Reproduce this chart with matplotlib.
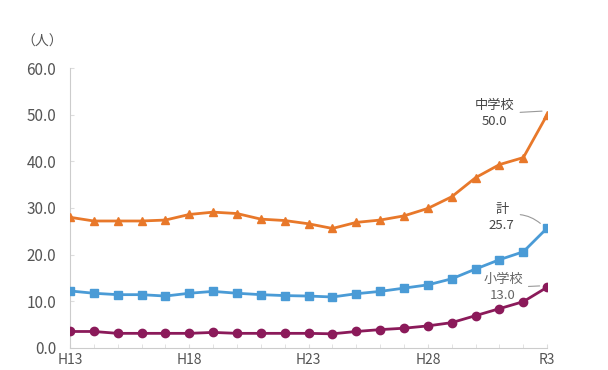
import matplotlib.pyplot as plt

plt.rcParams['font.family'] = ['Noto Sans CJK JP', 'DejaVu Sans']

years = ['H13', 'H14', 'H15', 'H16', 'H17', 'H18', 'H19', 'H20', 'H21', 'H22',
         'H23', 'H24', 'H25', 'H26', 'H27', 'H28', 'H29', 'H30', 'R1', 'R2', 'R3']
tick_labels = ['H13', 'H18', 'H23', 'H28', 'R3']

junior_high = [28.0, 27.2, 27.2, 27.2, 27.4, 28.6, 29.1, 28.8, 27.6, 27.3,
               26.6, 25.6, 26.9, 27.4, 28.3, 29.9, 32.4, 36.5, 39.3, 40.8, 50.0]
total = [12.2, 11.7, 11.4, 11.4, 11.1, 11.7, 12.1, 11.7, 11.4, 11.2,
         11.1, 10.9, 11.6, 12.1, 12.8, 13.5, 14.8, 16.9, 18.9, 20.6, 25.7]
elementary = [3.5, 3.5, 3.1, 3.1, 3.1, 3.1, 3.3, 3.1, 3.1, 3.1,
              3.1, 3.0, 3.5, 3.9, 4.2, 4.7, 5.4, 6.9, 8.4, 9.9, 13.0]

fig = plt.figure(figsize=(6.08, 3.70), dpi=100)
ax = fig.add_axes([0.115, 0.06, 0.785, 0.756])

x = list(range(len(years)))
ax.plot(x, junior_high, color='#E8782A', lw=2, marker='^', ms=6, zorder=3)
ax.plot(x, total, color='#4A9BD6', lw=2, marker='s', ms=6, zorder=3)
ax.plot(x, elementary, color='#8B1A5A', lw=2, marker='o', ms=6, zorder=3)

ax.set_xlim(0, len(years) - 1)
ax.set_ylim(0, 60)
ax.set_yticks(range(0, 61, 10))
ax.set_yticklabels([f'{v:.1f}' for v in range(0, 61, 10)], fontsize=11, color='#555555')
ax.set_xticks([years.index(t) for t in tick_labels])
ax.set_xticks(x, minor=True)
ax.set_xticklabels(tick_labels, fontsize=10, color='#555555')
ax.tick_params(axis='y', length=3, direction='in', color='#dddddd', pad=10)
ax.tick_params(axis='x', which='both', length=3, direction='in', color='#dddddd', pad=4)

for side in ['top', 'right']:
    ax.spines[side].set_visible(False)
for side in ['left', 'bottom']:
    ax.spines[side].set_color('#cccccc')

ax.text(-0.015, 1.07, '（人）', transform=ax.transAxes, ha='right', va='bottom',
        fontsize=10, color='#555555')

last = len(years) - 1
ax.annotate(f'中学校\n{junior_high[-1]:.1f}', xy=(last - 0.1, junior_high[-1] + 0.8),
            xytext=(last - 2.2, junior_high[-1] + 0.2), fontsize=9.5, color='#444444',
            ha='center', va='center', linespacing=1.3,
            arrowprops=dict(arrowstyle='-', color='#999999', lw=0.8))
ax.annotate(f'計\n{total[-1]:.1f}', xy=(last - 0.2, total[-1] + 0.6),
            xytext=(last - 1.9, total[-1] + 2.3), fontsize=9.5, color='#444444',
            ha='center', va='center', linespacing=1.3,
            arrowprops=dict(arrowstyle='-', color='#999999', lw=0.8,
                            connectionstyle='arc3,rad=-0.3'))
ax.annotate(f'小学校\n{elementary[-1]:.1f}', xy=(last - 0.2, elementary[-1] + 0.3),
            xytext=(last - 1.85, elementary[-1] - 0.1), fontsize=9.5, color='#666666',
            ha='center', va='center', linespacing=1.3,
            arrowprops=dict(arrowstyle='-', color='#999999', lw=0.8))

fig.savefig('out.png', dpi=100)
